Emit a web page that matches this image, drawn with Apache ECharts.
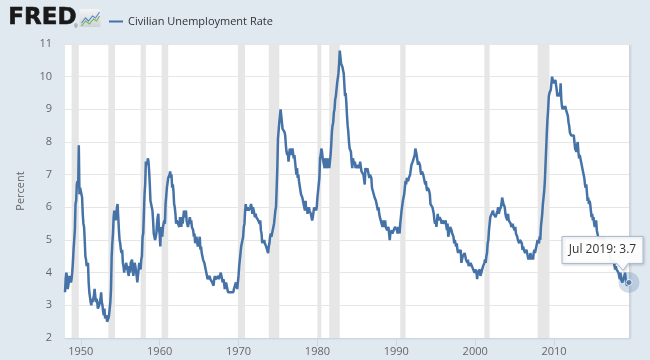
<!DOCTYPE html>
<html>
<head>
<meta charset="utf-8">
<script src="https://cdn.jsdelivr.net/npm/echarts@6/dist/echarts.min.js"></script>
<style>
html,body{margin:0;padding:0;background:#e1e9f0;}
#chart{width:650px;height:360px;}
</style>
</head>
<body>
<div id="chart"></div>
<script>
// Monthly civilian unemployment rate, Jan 1948 – Jul 2019 (percent)
const startYear = 1948;
const rate1940s = [
 3.4,3.8,4.0,3.9,3.5,3.6,3.6,3.9,3.8,3.7,3.8,4.0,
 4.3,4.7,5.0,5.3,6.1,6.2,6.7,6.8,6.6,7.9,6.4,6.6];
const rate1950s = [
 6.5,6.4,6.3,5.8,5.5,5.4,5.0,4.5,4.4,4.2,4.2,4.3,
 3.7,3.4,3.4,3.1,3.0,3.2,3.1,3.1,3.3,3.5,3.5,3.1,
 3.2,3.1,2.9,2.9,3.0,3.0,3.2,3.4,3.1,3.0,2.8,2.7,
 2.9,2.6,2.6,2.7,2.5,2.5,2.6,2.7,2.9,3.1,3.5,4.5,
 4.9,5.2,5.7,5.9,5.9,5.6,5.8,6.0,6.1,5.7,5.3,5.0,
 4.9,4.7,4.6,4.7,4.3,4.2,4.0,4.2,4.1,4.3,4.2,4.2,
 4.0,3.9,4.2,4.0,4.3,4.3,4.4,4.1,3.9,3.9,4.3,4.2,
 4.2,3.9,3.7,3.9,4.1,4.3,4.2,4.1,4.4,4.5,5.1,5.2,
 5.8,6.4,6.7,7.4,7.4,7.3,7.5,7.4,7.1,6.7,6.2,6.2,
 6.0,5.9,5.6,5.2,5.1,5.0,5.1,5.2,5.5,5.7,5.8,5.3];
const rate1960s = [
 5.2,4.8,5.4,5.2,5.1,5.4,5.5,5.6,5.5,6.1,6.1,6.6,
 6.6,6.9,6.9,7.0,7.1,6.9,7.0,6.6,6.7,6.5,6.1,6.0,
 5.8,5.5,5.6,5.6,5.5,5.5,5.4,5.7,5.6,5.4,5.7,5.5,
 5.7,5.9,5.7,5.7,5.9,5.6,5.6,5.4,5.5,5.5,5.7,5.5,
 5.6,5.4,5.4,5.3,5.1,5.2,4.9,5.0,5.1,5.1,4.8,5.0,
 4.9,5.1,4.7,4.8,4.6,4.6,4.4,4.4,4.3,4.2,4.1,4.0,
 4.0,3.8,3.8,3.8,3.9,3.8,3.8,3.8,3.7,3.7,3.6,3.8,
 3.9,3.8,3.8,3.8,3.8,3.9,3.8,3.8,3.8,4.0,3.9,3.8,
 3.7,3.8,3.7,3.5,3.5,3.7,3.7,3.5,3.4,3.4,3.4,3.4,
 3.4,3.4,3.4,3.4,3.4,3.5,3.5,3.5,3.7,3.7,3.5,3.5];
const rate1970s = [
 3.9,4.2,4.4,4.6,4.8,4.9,5.0,5.1,5.4,5.5,5.9,6.1,
 5.9,5.9,6.0,5.9,5.9,5.9,6.0,6.1,6.0,5.8,6.0,6.0,
 5.8,5.7,5.8,5.7,5.7,5.7,5.6,5.6,5.5,5.6,5.3,5.2,
 4.9,5.0,4.9,5.0,4.9,4.9,4.8,4.8,4.8,4.6,4.8,4.9,
 5.1,5.2,5.1,5.1,5.1,5.4,5.5,5.5,5.9,6.0,6.6,7.2,
 8.1,8.1,8.6,8.8,9.0,8.8,8.6,8.4,8.4,8.4,8.3,8.2,
 7.9,7.7,7.6,7.7,7.4,7.6,7.8,7.8,7.6,7.7,7.8,7.8,
 7.5,7.6,7.4,7.2,7.0,7.2,6.9,7.0,6.8,6.8,6.8,6.4,
 6.4,6.3,6.3,6.1,6.0,5.9,6.2,5.9,6.0,5.8,5.9,6.0,
 5.9,5.9,5.8,5.8,5.6,5.7,5.7,6.0,5.9,6.0,5.9,6.0];
const rate1980s = [
 6.3,6.3,6.3,6.9,7.5,7.6,7.8,7.7,7.5,7.5,7.5,7.2,
 7.5,7.4,7.4,7.2,7.5,7.5,7.2,7.4,7.6,7.9,8.3,8.5,
 8.6,8.9,9.0,9.3,9.4,9.6,9.8,9.8,10.1,10.4,10.8,10.8,
 10.4,10.4,10.3,10.2,10.1,10.1,9.4,9.5,9.2,8.8,8.5,8.3,
 8.0,7.8,7.8,7.7,7.4,7.2,7.5,7.5,7.3,7.4,7.2,7.3,
 7.3,7.2,7.2,7.3,7.2,7.4,7.4,7.1,7.1,7.1,7.0,7.0,
 6.7,7.2,7.2,7.1,7.2,7.2,7.0,6.9,7.0,7.0,6.9,6.6,
 6.6,6.6,6.6,6.3,6.3,6.2,6.1,6.0,5.9,6.0,5.8,5.7,
 5.7,5.7,5.7,5.4,5.6,5.4,5.4,5.6,5.4,5.4,5.3,5.3,
 5.4,5.2,5.0,5.2,5.2,5.3,5.2,5.2,5.3,5.3,5.4,5.4];
const rate1990s = [
 5.4,5.3,5.2,5.4,5.4,5.2,5.5,5.7,5.9,5.9,6.2,6.3,
 6.4,6.6,6.8,6.7,6.9,6.9,6.8,6.9,6.9,7.0,7.0,7.3,
 7.3,7.4,7.4,7.4,7.6,7.8,7.7,7.6,7.6,7.3,7.4,7.4,
 7.3,7.1,7.0,7.1,7.1,7.0,6.9,6.8,6.7,6.8,6.6,6.5,
 6.6,6.6,6.5,6.4,6.1,6.1,6.1,6.0,5.9,5.8,5.6,5.5,
 5.6,5.4,5.4,5.8,5.6,5.6,5.7,5.7,5.6,5.5,5.6,5.6,
 5.6,5.5,5.5,5.6,5.6,5.3,5.5,5.1,5.2,5.2,5.4,5.4,
 5.3,5.2,5.2,5.1,4.9,5.0,4.9,4.8,4.9,4.7,4.6,4.7,
 4.6,4.6,4.7,4.3,4.4,4.5,4.5,4.5,4.6,4.5,4.4,4.4,
 4.3,4.4,4.2,4.3,4.2,4.3,4.3,4.2,4.2,4.1,4.1,4.0];
const rate2000s = [
 4.0,4.1,4.0,3.8,4.0,4.0,4.0,4.1,3.9,3.9,3.9,3.9,
 4.2,4.2,4.3,4.4,4.3,4.5,4.6,4.9,5.0,5.3,5.5,5.7,
 5.7,5.7,5.7,5.9,5.8,5.8,5.8,5.7,5.7,5.7,5.9,6.0,
 5.8,5.9,5.9,6.0,6.1,6.3,6.2,6.1,6.1,6.0,5.8,5.7,
 5.7,5.6,5.8,5.6,5.6,5.6,5.5,5.4,5.4,5.5,5.4,5.4,
 5.3,5.4,5.2,5.2,5.1,5.0,5.0,4.9,5.0,5.0,5.0,4.9,
 4.7,4.8,4.7,4.7,4.6,4.6,4.7,4.7,4.5,4.4,4.5,4.4,
 4.6,4.5,4.4,4.5,4.4,4.6,4.7,4.6,4.7,4.7,4.7,5.0,
 5.0,4.9,5.1,5.0,5.4,5.6,5.8,6.1,6.1,6.5,6.8,7.3,
 7.8,8.3,8.7,9.0,9.4,9.5,9.5,9.6,9.8,10.0,9.9,9.9];
const rate2010s = [
 9.8,9.8,9.9,9.9,9.6,9.4,9.4,9.5,9.5,9.4,9.8,9.3,
 9.1,9.0,9.0,9.1,9.0,9.1,9.0,9.0,9.0,8.8,8.6,8.5,
 8.3,8.3,8.2,8.2,8.2,8.2,8.2,8.0,7.8,7.8,7.7,7.9,
 8.0,7.7,7.5,7.6,7.5,7.5,7.3,7.2,7.2,7.2,6.9,6.7,
 6.6,6.7,6.7,6.2,6.3,6.1,6.2,6.1,5.9,5.7,5.8,5.6,
 5.7,5.5,5.4,5.4,5.6,5.3,5.2,5.1,5.0,5.0,5.1,5.0,
 4.9,4.9,5.0,5.1,4.8,4.9,4.8,4.9,5.0,4.9,4.7,4.7,
 4.7,4.6,4.4,4.4,4.4,4.3,4.3,4.4,4.2,4.1,4.2,4.1,
 4.1,4.1,4.0,4.0,3.8,4.0,3.8,3.8,3.7,3.8,3.8,3.9,
 4.0,3.8,3.8,3.6,3.6,3.7,3.7];

// NBER recessions (start month, end month)
const recessions = [
 ['1948-11','1949-10'],['1953-07','1954-05'],['1957-08','1958-04'],
 ['1960-04','1961-02'],['1969-12','1970-11'],['1973-11','1975-03'],
 ['1980-01','1980-07'],['1981-07','1982-11'],['1990-07','1991-03'],
 ['2001-03','2001-11'],['2007-12','2009-06']];

const xTickYears = [1950,1960,1970,1980,1990,2000,2010];
const yMin = 2, yMax = 11, yStep = 1;
const seriesName = 'Civilian Unemployment Rate';
const monthNames = ['Jan','Feb','Mar','Apr','May','Jun','Jul','Aug','Sep','Oct','Nov','Dec'];

const values = [].concat(rate1940s, rate1950s, rate1960s, rate1970s, rate1980s, rate1990s, rate2000s, rate2010s);
const toX = s => { const p = s.split('-'); return +p[0] + (+p[1]-1)/12; };
const data = values.map((v,i) => [startYear + i/12, v]);
const lastIdx = data.length-1;
const last = data[lastIdx];
const lastLabel = monthNames[lastIdx % 12] + ' ' + (startYear + Math.floor(lastIdx/12)) + ': ' + values[lastIdx];

const chart = echarts.init(document.getElementById('chart'), null, {renderer:'canvas'});
const font = '"Open Sans", sans-serif';
const blue = '#4572a7';

const logoGraphic = [
  {type: 'text', left: 8, top: 6, style: {text: 'FRED', font: 'bold 23px "DejaVu Sans", sans-serif', fill: '#1a1a1a', stroke: '#1a1a1a', lineWidth: 0.6}},
  {type: 'text', left: 74, top: 24, style: {text: '®', font: '5px sans-serif', fill: '#555'}},
  {type: 'group', left: 79, top: 9, children: [
    {type: 'rect', shape: {x:0, y:0, width:21, height:18, r:1}, style: {fill: new echarts.graphic.LinearGradient(0,0,0,1,[{offset:0,color:'#f4f4f4'},{offset:1,color:'#cfd3d6'}])}},
    {type: 'polyline', shape: {points: [[2,14],[6,9],[9,12],[13,7],[16,9],[20,3]]}, style: {stroke: '#5b8fc6', lineWidth: 1.2, fill: null}},
    {type: 'polyline', shape: {points: [[2,17],[6,12],[10,15],[14,10],[17,12],[20,7]]}, style: {stroke: '#7ab55c', lineWidth: 1.2, fill: null}}
  ]}
];

const option = {
  animation: false,
  backgroundColor: '#e1e9f0',
  textStyle: {fontFamily: font},
  grid: {left: 65, right: 21, top: 44, bottom: 22, show: true, backgroundColor: '#ffffff', borderWidth: 0,
         shadowColor: 'rgba(0,0,0,0.10)', shadowBlur: 2, shadowOffsetX: 2, shadowOffsetY: 1},
  legend: {
    left: 104, top: 11, itemWidth: 14, itemHeight: 2, itemGap: 5,
    icon: 'rect',
    data: [{name: seriesName, icon: 'rect'}],
    textStyle: {fontSize: 11, color: '#333', fontFamily: font},
    selectedMode: false
  },
  graphic: logoGraphic,
  xAxis: {
    type: 'value', min: startYear, max: last[0],
    axisLine: {show: true, lineStyle: {color: '#ccd6eb'}},
    axisTick: {show: true, customValues: xTickYears, length: 8, lineStyle: {color: '#ccd6eb'}},
    axisLabel: {customValues: xTickYears, formatter: v => String(Math.round(v)), color: '#666', fontSize: 11, margin: 8, fontFamily: font},
    splitLine: {show: false}
  },
  yAxis: {
    type: 'value', min: yMin, max: yMax, interval: yStep,
    name: 'Percent', nameLocation: 'middle', nameGap: 39, nameRotate: 90,
    nameTextStyle: {color: '#666', fontSize: 11, fontFamily: font},
    axisLine: {show: false}, axisTick: {show: false},
    axisLabel: {color: '#666', fontSize: 11, margin: 13, fontFamily: font},
    splitLine: {lineStyle: {color: '#e6e6e6', width: 1}}
  },
  series: [
    {
      name: seriesName, type: 'line', data: data, showSymbol: false, symbol: 'none',
      lineStyle: {color: blue, width: 2.5}, itemStyle: {color: blue},
      silent: true, z: 3,
      markArea: {
        silent: true,
        itemStyle: {color: '#e6e6e6'},
        data: recessions.map(r => [{xAxis: toX(r[0])}, {xAxis: toX(r[1])}])
      }
    },
    {
      name: 'halo', type: 'scatter', data: [last], symbolSize: 21, clip: false, z: 4,
      itemStyle: {color: 'rgba(69,114,167,0.30)'}, silent: true
    },
    {
      name: 'point', type: 'scatter', data: [last], symbolSize: 6, clip: false, z: 5,
      itemStyle: {color: blue, borderColor: '#fff', borderWidth: 1}, silent: true
    }
  ]
};
chart.setOption(option);

// Tooltip callout anchored to the last data point
const p = chart.convertToPixel({gridIndex: 0}, last);
const bx0 = p[0] - 67, bx1 = p[0] + 14, by0 = p[1] - 46, by1 = p[1] - 19;
const tipGraphic = [
  {type: 'polygon', z: 100, zlevel: 1,
   shape: {points: [[bx0,by0],[bx1,by0],[bx1,by1],[p[0]-1,by1],[p[0]-6,p[1]-12],[p[0]-12,by1],[bx0,by1]]},
   style: {fill: 'rgba(255,255,255,0.95)', stroke: '#a7bcd3', lineWidth: 1, shadowBlur: 3, shadowColor: 'rgba(0,0,0,0.18)', shadowOffsetX: 1, shadowOffsetY: 1}},
  {type: 'text', z: 101, zlevel: 1, x: (bx0 + bx1) / 2, y: (by0 + by1) / 2,
   style: {text: lastLabel, font: '12px "Open Sans", sans-serif', fill: '#333', align: 'center', verticalAlign: 'middle'}}
];
chart.setOption({graphic: logoGraphic.concat(tipGraphic)}, {replaceMerge: ['graphic']});
</script>
</body>
</html>
